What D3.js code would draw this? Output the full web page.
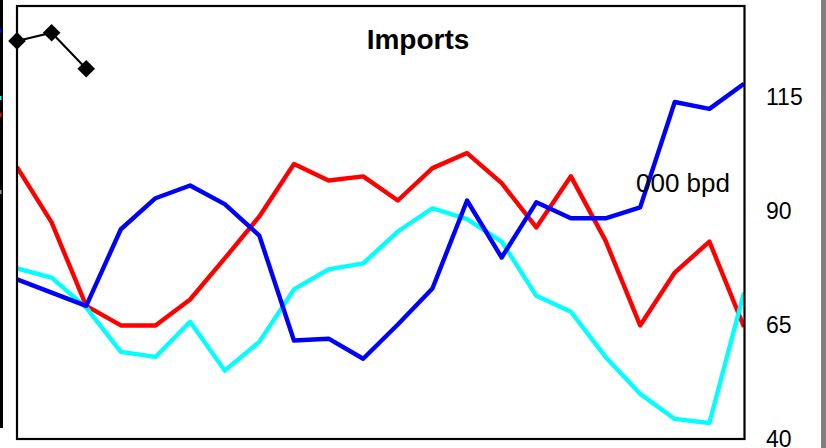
<!DOCTYPE html>
<html>
<head>
<meta charset="utf-8">
<script src="https://cdn.jsdelivr.net/npm/d3@7"></script>
<style>
  html, body { margin: 0; padding: 0; background: #fff; }
  svg { display: block; }
</style>
</head>
<body>
<svg id="chart" width="826" height="448"></svg>
<script>
// Monthly periods along the x axis (unlabelled)
const periods = [1, 2, 3, 4, 5, 6, 7, 8, 9, 10, 11, 12, 13, 14, 15, 16, 17, 18, 19, 20, 21, 22];

// Import volumes, thousand barrels per day
const blueSeries = [75.0, 72.1, 69.2, 86.0, 92.8, 95.6, 91.5, 84.6, 61.6, 62.0, 57.6, 65.1,
                    73.0, 92.3, 79.8, 91.9, 88.4, 88.4, 90.8, 113.9, 112.4, 117.9];
const redSeries  = [99.6, 87.5, 69.2, 64.9, 64.9, 70.6, 79.6, 88.8, 100.3, 96.7, 97.6, 92.3,
                    99.4, 102.7, 96.1, 86.4, 97.6, 83.5, 64.9, 76.5, 83.3, 64.6];
const cyanSeries = [77.4, 75.4, 68.8, 59.1, 58.0, 65.7, 55.0, 61.3, 72.8, 77.2, 78.5, 85.5,
                    90.6, 88.2, 83.3, 71.4, 67.9, 58.0, 49.9, 44.4, 43.5, 72.1];
const blackSeries = [127.3, 129.1, 121.2];

const yTicks = [40, 65, 90, 115];

const svg = d3.select("#chart");

// Plot frame bounds
const frame = { left: 17, right: 744.5, top: 6, bottom: 439 };

const x = d3.scaleLinear()
  .domain([0, periods.length - 1])
  .range([17, 744]);

const y = d3.scaleLinear()
  .domain([40, 115])
  .range([439, 97]);

// Edge of the neighbouring panel on the left
svg.append("line")
  .attr("x1", 1.5).attr("x2", 1.5)
  .attr("y1", 0).attr("y2", 428)
  .attr("stroke", "#000").attr("stroke-width", 3);
[[31, "#0000ff"], [98, "#00ffff"], [115, "#ff0000"], [192, "#9a9a9a"]].forEach(([yy, c]) => {
  svg.append("rect").attr("x", 0).attr("y", yy - 2).attr("width", 1.5).attr("height", 4).attr("fill", c);
});

// Separator on the right edge
svg.append("rect")
  .attr("x", 821).attr("y", 0)
  .attr("width", 5).attr("height", 448)
  .attr("fill", "#808080");

// Clip series to the plot area
svg.append("clipPath").attr("id", "plotClip")
  .append("rect")
  .attr("x", frame.left).attr("y", frame.top)
  .attr("width", frame.right - frame.left)
  .attr("height", frame.bottom - frame.top);

const plot = svg.append("g").attr("clip-path", "url(#plotClip)");

const line = d3.line()
  .x((d, i) => x(i))
  .y(d => y(d));

const series = [
  { values: redSeries,  color: "#ff0000" },
  { values: cyanSeries, color: "#00ffff" },
  { values: blueSeries, color: "#0000ff" }
];

series.forEach(s => {
  plot.append("path")
    .datum(s.values)
    .attr("d", line)
    .attr("fill", "none")
    .attr("stroke", s.color)
    .attr("stroke-width", 4.4)
    .attr("stroke-linejoin", "round")
    .attr("stroke-linecap", "butt");
});

// Short series with diamond markers
svg.append("path")
  .datum(blackSeries)
  .attr("d", line)
  .attr("fill", "none")
  .attr("stroke", "#000")
  .attr("stroke-width", 2);

const diamond = d3.symbol().type(d3.symbolSquare).size(155);
svg.selectAll(".marker")
  .data(blackSeries)
  .join("path")
  .attr("class", "marker")
  .attr("d", diamond)
  .attr("transform", (d, i) => `translate(${x(i)},${y(d)}) rotate(45)`)
  .attr("fill", "#000");

// Frame
svg.append("rect")
  .attr("x", frame.left).attr("y", frame.top)
  .attr("width", frame.right - frame.left)
  .attr("height", frame.bottom - frame.top)
  .attr("fill", "none")
  .attr("stroke", "#000")
  .attr("stroke-width", 2.2);

// Right value axis
const axis = svg.append("g")
  .attr("transform", "translate(766,0)")
  .call(d3.axisRight(y).tickValues(yTicks).tickSize(0).tickPadding(0));
axis.select(".domain").remove();
axis.selectAll("text")
  .attr("font-family", "Liberation Sans, Arial, sans-serif")
  .attr("font-size", 23)
  .attr("fill", "#000");

// Title and unit label
svg.append("text")
  .attr("x", 418).attr("y", 49)
  .attr("text-anchor", "middle")
  .attr("font-family", "Liberation Sans, Arial, sans-serif")
  .attr("font-weight", "bold")
  .attr("font-size", 28)
  .text("Imports");

svg.append("text")
  .attr("x", 636).attr("y", 192)
  .attr("font-family", "Liberation Sans, Arial, sans-serif")
  .attr("font-size", 26)
  .text("000 bpd");
</script>
</body>
</html>
